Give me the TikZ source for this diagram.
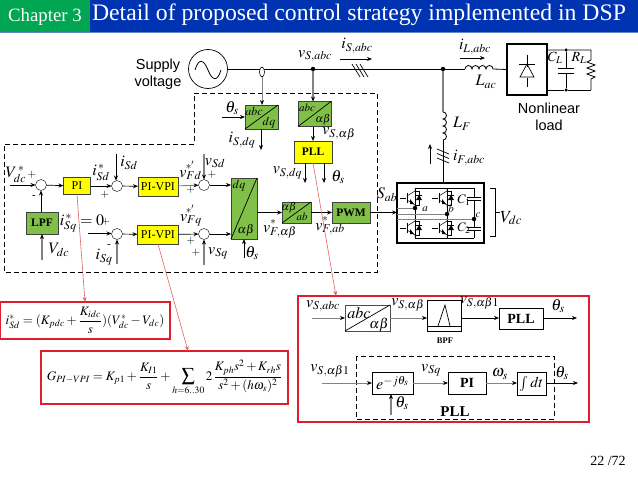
\documentclass[tikz,border=0pt]{standalone}
\usepackage{mathptmx}
\usepackage{amsmath}
\usepackage{fontspec}
\setmainfont{Liberation Serif}
\newfontfamily\labelsans{Liberation Sans}
\usetikzlibrary{arrows.meta, calc, shapes.geometric}
\definecolor{headblue}  {RGB}{  0, 51,178}
\definecolor{headgreen} {RGB}{  0,166, 81}
\definecolor{ctrlgreen} {RGB}{128,192, 72}
\definecolor{ctrlyellow}{RGB}{255,255,  0}
\definecolor{framered}  {RGB}{220, 30, 45}
\definecolor{linkred}   {RGB}{225,100,100}
\definecolor{wiregray}  {RGB}{130,130,130}
\tikzset{
  boxwh/.style 2 args = {minimum width=#1pt, minimum height=#2pt},
  sig line/.style    = {->, line width=0.7pt},
  gray line/.style   = {-{Stealth[length=5pt,width=4pt,black]}, wiregray, line width=1.2pt},
  power line/.style  = {line width=0.8pt},
  red link/.style    = {->, linkred, line width=0.6pt},
  ctrl box/.style    = {draw=black!75, inner sep=0pt, outer sep=0pt, font=\fontsize{11.5}{11.5}\selectfont\bfseries},
  green box/.style   = {ctrl box, fill=ctrlgreen},
  yellow box/.style  = {ctrl box, fill=ctrlyellow},
  yellow plain/.style= {yellow box, font=\fontsize{12}{12}\selectfont},
  plain box/.style   = {draw, line width=0.8pt, inner sep=0pt, outer sep=0pt, font=\fontsize{14}{14}\selectfont\bfseries},
  sum node/.style    = {draw, circle, fill=white, minimum size=11pt, inner sep=0pt, outer sep=0pt},
  join dot/.style    = {fill, circle, minimum size=4.5pt, inner sep=0pt, outer sep=0pt},
  red frame/.style   = {draw=framered, line width=1.6pt, inner sep=0pt, outer sep=0pt},
  dash frame/.style  = {dashed, line width=1pt, dash pattern=on 5pt off 3pt},
  sym/.style         = {inner sep=0pt, font=\fontsize{16}{16}\selectfont},
  small sym/.style   = {inner sep=0pt, font=\fontsize{11}{11}\selectfont},
  in box/.style      = {inner sep=0pt, font=\fontsize{12}{12}\selectfont},
  sans note/.style   = {inner sep=0pt, align=center, font=\fontsize{14.5}{17}\selectfont\labelsans},
  igbt/.pic = {
    \draw[line width=0.5pt] (-15,0) -- (-9,0);
    \draw[line width=0.8pt] (-8,-5) -- (-8,5);
    \draw[line width=0.5pt] (0,-10) -- (0,-7) -- (-8,-2);
    \draw[line width=0.5pt] (-8,2) -- (0,7) -- (0,10);
    \draw[line width=0.5pt] (0,-7) -- (4,-7) -- (4,7) -- (0,7);
    \fill (-5,1) -- (-1,6) -- (-5,6) -- cycle;
    \fill (4,-3) -- (1,2) -- (7,2) -- cycle;
    \draw[line width=0.6pt] (1,-3) -- (7,-3);
  },
}

\begin{document}
\begin{tikzpicture}[>={Stealth[length=5pt,width=4pt]}, x=1pt, y=-1pt]

  \useasboundingbox (0,0) rectangle (638,479);

  % header bar
  \fill[headgreen] (0,0) rectangle (90,32);
  \fill[headblue] (90,0) rectangle (638,32);
  \fill[headblue!60] (0,32) rectangle (638,33);
  \node[white, inner sep=0pt, font=\fontsize{18.8}{18.8}\selectfont] (chapter) at (45,16.5) {Chapter 3};
  \node[white, inner sep=0pt, font=\fontsize{23.7}{23.7}\selectfont] (title) at (359,15) {Detail of proposed control strategy implemented in DSP};
  \node[inner sep=0pt, font=\fontsize{14}{14}\selectfont] (pageno) at (608,461) {22 /72};

  % supply and main bus
  \node[draw, circle, minimum size=39pt, inner sep=0pt, outer sep=0pt, line width=0.7pt] (supply) at (208,69) {};
  \draw[line width=0.8pt] (195,70) .. controls (199,57) and (204,60) .. (208,70)
    .. controls (212,80) and (217,83) .. (221,70);
  \node[sans note] (supplytxt) at (158,74.5) {Supply\\voltage};
  \node[join dot] (vsdot) at (313,69) {};
  \node[join dot] (pcc) at (443,69) {};
  \coordinate (lacin) at (465,69);
  \coordinate (lacout) at (493,69);
  \draw[power line] (supply.east) -- (vsdot) -- (pcc) -- (lacin);
  \draw[power line] (lacin) \foreach \i in {1,...,4}{ arc[start angle=180, end angle=0, radius=3.5pt] } -- (lacout);
  \node[draw, fill=white, ellipse, minimum width=5pt, minimum height=10pt, inner sep=0pt, outer sep=0pt, line width=0.6pt] (csense) at (262,72) {};
  \foreach \i in {0,1,2}{
    \draw[line width=0.7pt] ({352+\i*4},64) -- ({360+\i*4},77);
  }
  \coordinate (isfrom) at (340,59);
  \coordinate (isto) at (372,59);
  \draw[sig line] (isfrom) -- (isto);
  \coordinate (ilfrom) at (460,58);
  \coordinate (ilto) at (485,58);
  \draw[sig line] (ilfrom) -- (ilto);
  \node[sym] (vsabc) at (315,56) {$v_{S,abc}$};
  \node[sym] (isabc) at (357,46) {$i_{S,abc}$};
  \node[sym] (ilabc) at (475,47) {$i_{L,abc}$};
  \node[sym] (lac) at (486,82) {$L_{ac}$};

  % nonlinear load
  \node[draw, line width=1.6pt, boxwh={40}{51}, inner sep=0pt, outer sep=0pt] (rect) at (527,69.5) {};
  \draw[power line] (lacout) -- (rect.west);
  \draw[line width=0.7pt] (527,55) -- (527,67) (527,78) -- (527,87);
  \draw[line width=0.7pt] (519,64) -- (535,64);
  \draw[line width=0.7pt] (527,64) -- (520,77) -- (534,77) -- cycle;
  \node[join dot, minimum size=3.5pt] (cltop) at (566,50) {};
  \node[join dot, minimum size=3.5pt] (clbot) at (566,90) {};
  \coordinate (rltop) at (591,50);
  \coordinate (rlbot) at (591,90);
  \draw[power line] (rect.east |- cltop) -- (cltop) -- (rltop)
    -- (591,60) -- (587,62) -- (595,65) -- (587,68) -- (595,71) -- (587,74) -- (595,77) -- (591,79) -- (rlbot);
  \draw[power line] (rect.east |- clbot) -- (clbot) -- (rlbot);
  \draw[power line] (cltop) -- (566,68) (558,68) -- (574,68);
  \draw[power line] (clbot) -- (566,73) (558,73) -- (574,73);
  \node[sym, font=\fontsize{14}{14}\selectfont] (cl) at (555,58) {$C_L$};
  \node[sym, font=\fontsize{14}{14}\selectfont] (rl) at (579,58) {$R_L$};
  \node[sans note] (loadtxt) at (549,117) {Nonlinear\\load};

  % filter branch
  \coordinate (lfin) at (443,112);
  \coordinate (lfout) at (443,140);
  \draw[gray line, -] (pcc) -- (lfin);
  \draw[power line] (lfin) \foreach \i in {1,...,4}{ arc[start angle=90, end angle=-90, radius=3.5pt] } -- (lfout);
  \node[sym] (lf) at (462,124) {$L_F$};
  \node[sym] (ifabc) at (469,158) {$i_{F,abc}$};
  \coordinate (iffrom) at (430,164);
  \coordinate (ifto) at (430,144);
  \draw[->, line width=1pt] (iffrom) -- (ifto);
  \foreach \i in {0,1,2}{
    \draw[line width=0.7pt] (437,{149+\i*4.5}) -- (449,{154+\i*4.5});
  }

  % inverter
  \node[draw, line width=1.6pt, boxwh={87}{60}, inner sep=0pt, outer sep=0pt] (inverter) at (440.5,213) {};
  \draw[power line] (lfout) -- (inverter.north -| lfout);
  \draw[line width=0.6pt] (415,188) -- (474,188) (415,238) -- (474,238);
  \draw[line width=0.6pt] (415,188) -- (415,238) (447,188) -- (447,238);
  \pic at (415,198) {igbt};
  \pic at (447,198) {igbt};
  \pic at (415,228) {igbt};
  \pic at (447,228) {igbt};
  \draw[line width=0.6pt] (474,188) -- (474,197) (467,197) -- (481,197) (467,200) -- (481,200) (474,200) -- (474,227);
  \draw[line width=0.6pt] (467,227) -- (481,227) (467,230) -- (481,230) (474,230) -- (474,238);
  \node[join dot] (phasea) at (415,208) {};
  \node[join dot] (phaseb) at (447,214) {};
  \node[join dot] (phasec) at (474,219) {};
  \draw[wiregray, line width=1pt] (inverter.west |- phasea) -- (phasea);
  \draw[wiregray, line width=0.8pt] (inverter.west |- phaseb) -- (phaseb);
  \draw[wiregray, line width=0.8pt] (inverter.west |- phasec) -- (phasec);
  \node[small sym] (lbla) at (425,209) {$a$};
  \node[small sym] (lblb) at (451,209) {$b$};
  \node[small sym] (lblc) at (478,215) {$c$};
  \node[small sym, font=\fontsize{13}{13}\selectfont] (lblc1) at (464,200) {$C_1$};
  \node[small sym, font=\fontsize{13}{13}\selectfont] (lblc2) at (464,228) {$C_2$};
  \draw[line width=0.7pt] (490,188) -- (495,188) -- (495,236) -- (490,236) (495,212) -- (500,212);
  \node[sym, font=\fontsize{17}{17}\selectfont] (vdcbus) at (511,218) {$V_{dc}$};

  % control section outline
  \draw[dash frame] (194,93) -- (377,93) -- (377,272) -- (4,272) -- (4,144) -- (194,144) -- cycle;

  % dc link loop
  \node[sum node] (sumdc) at (41,185) {};
  \node[yellow plain, boxwh={27}{17}] (pibox) at (77,186) {PI};
  \node[green box, boxwh={32}{22}] (lpfbox) at (42,223) {LPF};
  \node[sum node] (sumd) at (117,186) {};
  \node[sum node] (sumq) at (117,234) {};
  \node[yellow plain, boxwh={40}{19}] (vpid) at (158,186.5) {PI-VPI};
  \node[yellow plain, boxwh={41}{19}] (vpiq) at (158,234.5) {PI-VPI};
  \node[sum node] (sumfd) at (204,185) {};
  \node[sum node] (sumfq) at (204,234) {};
  \coordinate (vdcref) at (10,185);
  \coordinate (vdcmeas) at (42,260);
  \coordinate (isdin) at (116,154);
  \coordinate (isqref) at (88,233.5);
  \coordinate (isqin) at (117,264);
  \draw[sig line] (vdcref) -- (sumdc);
  \draw[sig line] (sumdc) -- (pibox);
  \draw[sig line] (lpfbox.north -| sumdc) -- (sumdc);
  \draw[gray line] (vdcmeas) -- (lpfbox);
  \draw[sig line] (pibox) -- (sumd);
  \draw[sig line] (isdin) -- (sumd.north -| isdin);
  \draw[sig line] (sumd) -- (vpid);
  \draw[sig line] (isqref) -- (sumq.west |- isqref);
  \draw[gray line] (isqin) -- (sumq);
  \draw[sig line] (sumq) -- (vpiq);
  \draw[gray line, line width=0.9pt] (vpid) -- (sumfd);
  \draw[sig line] (vpiq) -- (sumfq);
  \node[sym] (vdcstar) at (16,174) {$V_{dc}^{\,*}$};
  \node[small sym] (plusa) at (32,175) {$+$};
  \node[small sym] (minusa) at (34,197) {-};
  \node[sym] (vdcfb) at (59,250) {$V_{dc}$};
  \node[sym] (isdstar) at (101,172) {$i_{Sd}^{\,*}$};
  \node[small sym] (plusb) at (105,195) {$+$};
  \node[sym] (isdlbl) at (129,163) {$i_{Sd}$};
  \node[sym] (isqstar) at (82,223) {$i_{Sq}^{\,*}=0$};
  \node[small sym] (plusc) at (106,222) {$+$};
  \node[small sym] (minusb) at (109,246) {-};
  \node[sym] (isqlbl) at (104,257) {$i_{Sq}$};

  % dq transformation and modulation
  \node[green box, boxwh={26}{61}] (dqbox) at (244,208.5) {};
  \draw[line width=0.7pt] (dqbox.south west) -- (dqbox.north east);
  \node[in box] (dqtop) at (239,186) {$dq$};
  \node[in box] (dqbot) at (246,230) {$\alpha\beta$};
  \node[green box, boxwh={29}{21}] (abbox) at (296.5,212.5) {};
  \draw[line width=0.7pt] (abbox.south west) -- (abbox.north east);
  \node[in box, font=\fontsize{11}{11}\selectfont] (abtop) at (289,208) {$\alpha\beta$};
  \node[in box, font=\fontsize{11}{11}\selectfont] (abbot) at (302,217) {$ab$};
  \node[green box, boxwh={38}{21}] (pwmbox) at (351,212.5) {PWM};
  \coordinate (vsdin) at (204,154);
  \coordinate (vsqin) at (204,265);
  \coordinate (thin) at (244,258);
  \draw[sig line] (sumfd) -- (sumfd -| dqbox.west);
  \draw[sig line] (sumfq) -- (sumfq -| dqbox.west);
  \draw[gray line] (vsdin) -- (sumfd);
  \draw[gray line] (vsqin) -- (sumfq);
  \draw[sig line] (thin) -- (dqbox.south -| thin);
  \draw[sig line] (dqbox.east |- abbox) -- (abbox);
  \draw[sig line] (abbox) -- (pwmbox);
  \draw[sig line] (pwmbox) -- (inverter.west |- pwmbox);
  \node[small sym] (starfd) at (190,165) {$*'$};
  \node[sym] (vfd) at (190.5,175) {$v_{Fd}$};
  \node[small sym] (starfq) at (190,209) {$*'$};
  \node[sym] (vfq) at (191,220) {$v_{Fq}$};
  \node[small sym] (plusd) at (191,190) {$+$};
  \node[small sym] (pluse) at (212,175) {$+$};
  \node[small sym] (plusf) at (191,241) {$+$};
  \node[small sym] (plusg) at (196,253) {$+$};
  \node[sym] (vsdlbl) at (215,163) {$v_{Sd}$};
  \node[sym] (vsqlbl) at (218,253) {$v_{Sq}$};
  \node[sym] (thdq) at (252,253) {$\theta_s$};
  \node[small sym] (starfab) at (273,222) {$*$};
  \node[sym] (vfabr) at (280,232) {$v_{F,\alpha\beta}$};
  \node[small sym] (starfpw) at (325,219) {$*$};
  \node[sym] (vfabc) at (330,229) {$v_{F,ab}$};
  \node[sym] (sab) at (387,195) {$S_{ab}$};

  % grid side transforms and PLL
  \node[green box, boxwh={33}{24}] (idqbox) at (261.5,117) {};
  \draw[line width=0.7pt] (idqbox.south west) -- (idqbox.north east);
  \node[in box] (idqtop) at (254,111) {$abc$};
  \node[in box] (idqbot) at (269,123) {$dq$};
  \node[green box, boxwh={33}{25}] (vabbox) at (314.5,114) {};
  \draw[line width=0.7pt] (vabbox.south west) -- (vabbox.north east);
  \node[in box, font=\fontsize{11}{11}\selectfont] (vabtop) at (307,108) {$abc$};
  \node[in box, font=\fontsize{11}{11}\selectfont] (vabbot) at (323,120) {$\alpha\beta$};
  \node[yellow box, boxwh={38}{22}] (pllbox) at (313,152) {PLL};
  \coordinate (thi) at (222,117);
  \coordinate (idqout) at (261,150);
  \coordinate (vdqout) at (305,183);
  \coordinate (thout) at (324,183);
  \draw[gray line, line width=0.9pt] (csense) -- (idqbox.north -| csense);
  \draw[gray line] (vsdot) -- (vabbox.north -| vsdot);
  \draw[sig line] (thi) -- (idqbox.west |- thi);
  \draw[sig line] (idqbox.south -| idqout) -- (idqout);
  \draw[sig line] (vabbox.south -| vsdot) -- (pllbox.north -| vsdot);
  \draw[sig line] (pllbox.south -| vdqout) -- (vdqout);
  \draw[sig line] (pllbox.south -| thout) -- (thout);
  \node[sym] (thabc) at (232,108) {$\theta_s$};
  \node[sym] (isdq) at (242,140) {$i_{S,dq}$};
  \node[sym] (vsab) at (339,134) {$v_{S,\alpha\beta}$};
  \node[sym] (vsdq) at (287.5,173) {$v_{S,dq}$};
  \node[sym] (thpll) at (338,177) {$\theta_s$};

  % red call-outs
  \node[red frame, boxwh={170}{37}] (dcframe) at (85,320.5)
    {\fontsize{13}{13}\selectfont$i_{Sd}^{*}=(K_{pdc}+\dfrac{K_{idc}}{s})(V_{dc}^{*}-V_{dc})$};
  \node[red frame, boxwh={247}{53}] (gainframe) at (164.5,377.5)
    {\fontsize{13}{13}\selectfont$\displaystyle G_{PI-VPI}=K_{p1}+\frac{K_{I1}}{s}+\sum_{h=6..30}2\,\frac{K_{ph}s^{2}+K_{rh}s}{s^{2}+(h\omega_{s})^{2}}$};
  \node[red frame, boxwh={291}{126}] (pllframe) at (443.5,359) {};
  \coordinate (gainin) at (188,351);
  \coordinate (pllin) at (336,296);
  \draw[red link] (pibox.south) -- (dcframe.north);
  \draw[red link] (vpiq.south) -- (gainin);
  \draw[red link] (pllbox.south) -- (pllin);

  % PLL detail, upper row
  \node[draw=black!70, line width=1pt, boxwh={45}{26}, inner sep=0pt, outer sep=0pt] (detabc) at (367.5,318) {};
  \draw[line width=0.7pt] (detabc.south west) -- (detabc.north east);
  \node[sym] (detabctop) at (359,313) {$abc$};
  \node[sym, font=\fontsize{14}{14}\selectfont] (detabcbot) at (379,325) {$\alpha\beta$};
  \node[draw, line width=0.8pt, boxwh={34}{31}, inner sep=0pt, outer sep=0pt] (bpfbox) at (444,315.5) {};
  \draw[line width=0.6pt] (bpfbox.west |- 0,326) -- (bpfbox.east |- 0,326);
  \draw[line width=0.7pt] (438,326) -- (445,305) -- (450,326);
  \node[inner sep=0pt, font=\fontsize{8.5}{8.5}\selectfont\bfseries] (bpftxt) at (445,341) {BPF};
  \node[plain box, boxwh={44}{21}] (detpll) at (521,318.5) {PLL};
  \coordinate (detin) at (312,318);
  \coordinate (detout) at (577,318);
  \draw[gray line, line width=0.9pt] (detin) -- (detabc.west |- detin);
  \draw[gray line, line width=0.9pt] (detabc.east |- detin) -- (bpfbox.west |- detin);
  \draw[sig line] (bpfbox.east |- detin) -- (detpll.west |- detin);
  \draw[sig line] (detpll.east |- detout) -- (detout);
  \node[sym] (detvabc) at (323,306) {$v_{S,abc}$};
  \node[sym] (detvab) at (408,305) {$v_{S,\alpha\beta}$};
  \node[sym] (detvab1) at (479.5,303) {$v_{S,\alpha\beta 1}$};
  \node[sym] (detth) at (558,306) {$\theta_s$};

  % PLL detail, lower row
  \draw[dash frame] (356,356) rectangle (554,419);
  \node[inner sep=0pt, font=\fontsize{15}{15}\selectfont\bfseries] (plltxt) at (455,412) {PLL};
  \node[plain box, boxwh={41}{22}, font=\fontsize{16}{16}\selectfont] (rotbox) at (392.5,383) {$e^{-j\theta_s}$};
  \node[plain box, boxwh={38}{22}] (pidet) at (467,383) {PI};
  \node[plain box, boxwh={29}{23}, font=\fontsize{15}{15}\selectfont] (intbox) at (531.5,383.5) {$\int dt$};
  \coordinate (rotin) at (322,383);
  \coordinate (rotth) at (391,415);
  \coordinate (rotout) at (578,383);
  \draw[gray line, line width=0.9pt] (rotin) -- (rotbox);
  \draw[gray line] (rotth) -- (rotbox.south -| rotth);
  \draw[gray line, line width=0.9pt] (rotbox) -- (pidet);
  \draw[gray line, line width=0.9pt] (pidet) -- (intbox.west |- pidet);
  \draw[sig line] (intbox.east |- rotout) -- (rotout);
  \node[sym] (rotvab) at (330,371) {$v_{S,\alpha\beta 1}$};
  \node[sym] (rotthlbl) at (402,403) {$\theta_s$};
  \node[sym] (rotvsq) at (431,370) {$v_{Sq}$};
  \node[sym] (rotomega) at (500,374) {$\omega_s$};
  \node[sym] (rotthout) at (562,373) {$\theta_s$};

\end{tikzpicture}
\end{document}
